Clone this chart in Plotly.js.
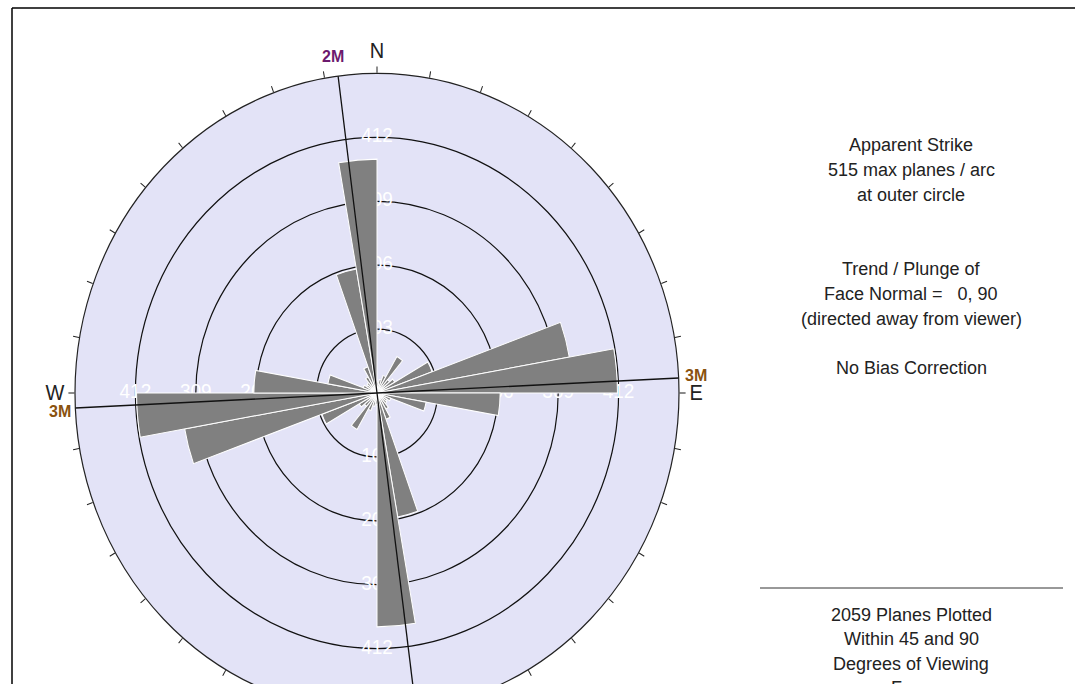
<!DOCTYPE html>
<html>
<head>
<meta charset="utf-8">
<script src="https://cdn.plot.ly/plotly-3.0.1.min.js"></script>
<style>
  html, body { margin: 0; padding: 0; overflow: hidden; background: #ffffff; }
</style>
</head>
<body>
<div id="rose" style="width:1075px;height:720px"></div>
<script>
// Rose diagram of apparent strike, 10 degree arcs (azimuth of arc centre, clockwise from north)
const arcCentres = [5, 15, 25, 35, 45, 55, 65, 75, 85, 95, 105, 115, 125, 135, 145, 155, 165, 175,
                    185, 195, 205, 215, 225, 235, 245, 255, 265, 275, 285, 295, 305, 315, 325, 335, 345, 355];
const planesPerArc = [18, 22, 30, 68, 28, 35, 100, 333, 410, 210, 85, 25, 20, 22, 30, 45, 203, 377,
                      18, 22, 30, 68, 28, 35, 100, 333, 410, 210, 85, 25, 20, 22, 30, 45, 203, 377];

// Concentric count circles and where their values are written
const ringValues = [103, 206, 309, 412];
const ringLabels = ['103', '206', '309', '412'];
const ringLabelAzimuths = [0, 90, 180, 270];
const outerCircle = 515;

// Compass letters on the rim
const compassAzimuths = [0, 90, 180, 270];
const compassLetters = ['N', 'E', 'S', 'W'];

// Scanline directions and their end labels
const scanNames = ['2M', '3M'];
const scanAzimuths = [352.6, 87.3];
const scanLabelText = ['2M', '3M', '3M'];
const scanLabelColour = ['#6c1a6e', '#8a5210', '#8a5210'];
const scanLabelPx = [[333, 57], [696, 375], [60, 411]];

// Side notes (blank entries are spacer lines)
const noteLines = ['Apparent Strike', '515 max planes / arc', 'at outer circle', '', '',
                   'Trend / Plunge of', 'Face Normal =   0, 90', '(directed away from viewer)', '',
                   'No Bias Correction'];
const footLines = ['2059 Planes Plotted', 'Within 45 and 90', 'Degrees of Viewing', 'Face'];

const W = 1075, H = 720;
const cx = 377, cy = 393, R = 302, stretchY = 1.058;
const FONT = 'Liberation Sans, Arial, sans-serif';

const tickVals = [], tickText = [];
for (let a = 0; a < 360; a += 10) {
  tickVals.push(a);
  const k = compassAzimuths.indexOf(a);
  tickText.push(k >= 0 ? compassLetters[k] : '');
}

const traces = [];

// count labels on the rings, in the lower subplot so the petals cover them
const lr = [], lt = [], ltext = [];
ringLabelAzimuths.forEach(a => {
  ringValues.forEach((v, j) => { lr.push(v); lt.push(a); ltext.push(ringLabels[j]); });
});
traces.push({
  type: 'scatterpolar', subplot: 'polar', mode: 'text', cliponaxis: false,
  r: lr, theta: lt, text: ltext,
  textfont: { family: FONT, size: 19, color: '#ffffff' },
  hoverinfo: 'skip'
});

// petals
traces.push({
  type: 'barpolar', subplot: 'polar2',
  r: planesPerArc,
  theta: arcCentres,
  width: arcCentres.map(() => 10),
  marker: { color: '#808080', line: { color: '#ffffff', width: 1 } },
  hoverinfo: 'skip'
});

// scanlines across the diagram
scanNames.forEach((name, i) => {
  const a = scanAzimuths[i];
  traces.push({
    type: 'scatterpolar', subplot: 'polar2', mode: 'lines',
    r: [outerCircle, 0, outerCircle],
    theta: [a, 0, a + 180],
    line: { color: '#111111', width: 1.3 },
    hoverinfo: 'skip'
  });
});

const annotations = [];
noteLines.forEach((t, i) => {
  if (!t) return;
  annotations.push({ xref: 'paper', yref: 'paper', x: 911 / W, y: 1 - (145 + i * 24.8) / H,
    text: t, showarrow: false, xanchor: 'center', yanchor: 'middle',
    font: { family: FONT, size: 18, color: '#222222' } });
});
footLines.forEach((t, i) => {
  annotations.push({ xref: 'paper', yref: 'paper', x: 911 / W, y: 1 - (615 + i * 24.3) / H,
    text: t, showarrow: false, xanchor: 'center', yanchor: 'middle',
    font: { family: FONT, size: 18, color: '#222222' } });
});
scanLabelText.forEach((t, i) => {
  annotations.push({ xref: 'paper', yref: 'paper',
    x: scanLabelPx[i][0] / W, y: 1 - scanLabelPx[i][1] / H,
    text: '<b>' + t + '</b>', showarrow: false, xanchor: 'center', yanchor: 'middle',
    font: { family: FONT, size: 16, color: scanLabelColour[i] } });
});

const domain = { x: [(cx - R) / W, (cx + R) / W], y: [1 - (cy + R) / H, 1 - (cy - R) / H] };

const layout = {
  width: W, height: H,
  margin: { l: 0, r: 0, t: 0, b: 0 },
  paper_bgcolor: '#ffffff',
  showlegend: false,
  polar: {
    domain: domain,
    bgcolor: '#e3e3f7',
    radialaxis: {
      range: [0, outerCircle], tickmode: 'array', tickvals: ringValues,
      showticklabels: false, ticks: '', showline: false,
      gridcolor: '#111111', gridwidth: 1.2, layer: 'below traces'
    },
    angularaxis: {
      rotation: 90, direction: 'clockwise',
      tickmode: 'array', tickvals: tickVals, ticktext: tickText,
      ticks: 'outside', ticklen: 6, tickwidth: 1, tickcolor: '#222222',
      showline: true, linecolor: '#222222', linewidth: 1.2,
      showgrid: false, layer: 'below traces',
      tickfont: { family: FONT, size: 20, color: '#222222' }
    }
  },
  polar2: {
    domain: domain,
    bgcolor: 'rgba(0,0,0,0)',
    radialaxis: {
      range: [0, outerCircle], showgrid: false, showticklabels: false, ticks: '', showline: false
    },
    angularaxis: {
      rotation: 90, direction: 'clockwise',
      showgrid: false, showticklabels: false, ticks: '', showline: false
    }
  },
  shapes: [
    { type: 'line', xref: 'paper', yref: 'paper', x0: 12 / W, x1: 1, y0: 1 - 8 / H, y1: 1 - 8 / H,
      line: { color: '#000000', width: 1.5 } },
    { type: 'line', xref: 'paper', yref: 'paper', x0: 12 / W, x1: 12 / W, y0: 0, y1: 1 - 8 / H,
      line: { color: '#000000', width: 1.5 } },
    { type: 'line', xref: 'paper', yref: 'paper', x0: 760 / W, x1: 1063 / W, y0: 1 - 588 / H, y1: 1 - 588 / H,
      line: { color: '#333333', width: 1 } }
  ],
  annotations: annotations
};

Plotly.newPlot('rose', traces, layout, { staticPlot: true, displayModeBar: false }).then(gd => {
  // the diagram is drawn slightly taller than wide
  const layer = gd.querySelector('.polarlayer');
  if (layer) {
    layer.setAttribute('transform',
      'translate(0,' + cy + ') scale(1,' + stretchY + ') translate(0,' + (-cy) + ')');
  }
});
</script>
</body>
</html>
